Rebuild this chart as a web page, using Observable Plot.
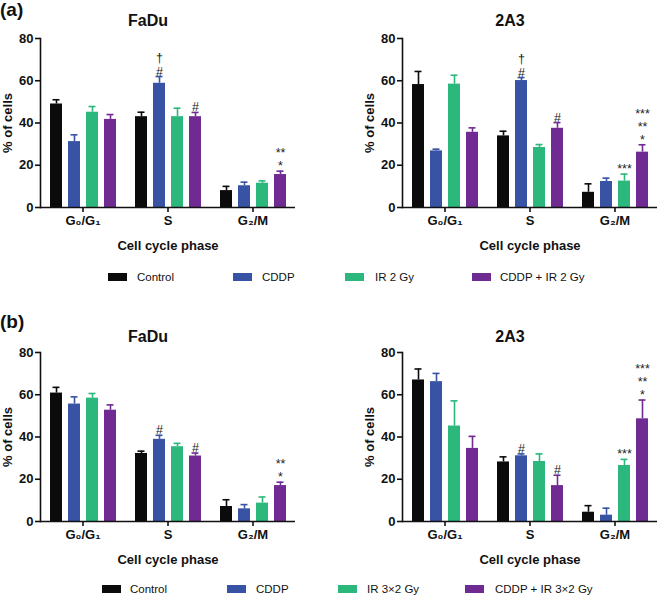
<!DOCTYPE html>
<html>
<head>
<meta charset="utf-8">
<script src="https://cdn.jsdelivr.net/npm/d3@7"></script>
<script src="https://cdn.jsdelivr.net/npm/@observablehq/plot@0.6"></script>
<style>
  body { margin: 0; background: #fff; }
  #fig { position: relative; width: 658px; height: 597px; font-family: "Liberation Sans", Arial, sans-serif; color: #111; overflow: hidden; }
  .abs { position: absolute; white-space: nowrap; line-height: 1.1; }
  .panel-label { font-weight: bold; font-size: 19px; }
  .title { font-weight: bold; font-size: 16px; transform: translate(-50%, -50%); }
  .sw { position: absolute; width: 19px; height: 8px; }
  .lg { position: absolute; font-size: 11.5px; transform: translateY(-50%); }
</style>
</head>
<body>
<div id="fig"></div>
<script>
// ---------- data ----------
const phases = ["G\u2080/G\u2081", "S", "G\u2082/M"];
const treatmentsA = ["Control", "CDDP", "IR 2 Gy", "CDDP + IR 2 Gy"];
const treatmentsB = ["Control", "CDDP", "IR 3\u00d72 Gy", "CDDP + IR 3\u00d72 Gy"];
const colors = ["#0b0b0b", "#3953a4", "#2cb77c", "#6f2b91"];

// means (rows: phases, cols: treatments) and upper error-bar ends
const faduA_mean = [[49.0, 31.2, 45.1, 41.7], [43.0, 58.8, 43.0, 43.0], [8.0, 10.3, 11.5, 15.6]];
const faduA_err  = [[51.0, 34.4, 47.8, 44.0], [45.1, 62.0, 47.0, 45.0], [10.0, 12.0, 12.6, 17.2]];
const a2a3A_mean = [[58.2, 26.8, 58.4, 35.6], [33.9, 60.1, 28.4, 37.5], [7.2, 12.3, 12.5, 26.2]];
const a2a3A_err  = [[64.4, 27.6, 62.6, 37.7], [36.1, 61.5, 29.8, 40.2], [11.2, 13.9, 15.8, 29.7]];
const faduB_mean = [[60.8, 55.6, 58.4, 52.7], [32.2, 38.9, 35.4, 31.0], [7.1, 6.0, 8.7, 17.0]];
const faduB_err  = [[63.5, 59.0, 60.6, 55.2], [33.3, 40.8, 37.0, 32.4], [10.3, 8.0, 11.6, 18.6]];
const a2a3B_mean = [[67.0, 66.2, 45.2, 34.6], [28.2, 31.1, 28.4, 17.0], [4.4, 3.0, 26.5, 48.6]];
const a2a3B_err  = [[72.2, 70.1, 57.1, 40.3], [30.6, 32.0, 32.0, 21.9], [7.5, 6.3, 29.4, 57.5]];

// significance marks: [phase index, treatment index, text]
const faduA_sig = [[1, 1, "\u2020\n#"], [1, 3, "#"], [2, 3, "**\n*"]];
const a2a3A_sig = [[1, 1, "\u2020\n#"], [1, 3, "#"], [2, 2, "***"], [2, 3, "***\n**\n*"]];
const faduB_sig = [[1, 1, "#"], [1, 3, "#"], [2, 3, "**\n*"]];
const a2a3B_sig = [[1, 1, "#"], [1, 3, "#"], [2, 2, "***"], [2, 3, "***\n**\n*"]];

const yTicks = [0, 20, 40, 60, 80];

// ---------- layout ----------
const fig = document.getElementById("fig");
function addDiv(cls, text, left, top) {
  const d = document.createElement("div");
  d.className = "abs " + cls;
  d.textContent = text;
  d.style.left = left + "px";
  d.style.top = top + "px";
  fig.appendChild(d);
  return d;
}

const panels = [
  {name: "FaDu", mean: faduA_mean, err: faduA_err, sig: faduA_sig, tr: treatmentsA, left: 0,   top: 25,  width: 330, ml: 40, mr: 35, tx: 148, ty: 21},
  {name: "2A3",  mean: a2a3A_mean, err: a2a3A_err, sig: a2a3A_sig, tr: treatmentsA, left: 330, top: 25,  width: 328, ml: 72, mr: 1,  tx: 510, ty: 21},
  {name: "FaDu", mean: faduB_mean, err: faduB_err, sig: faduB_sig, tr: treatmentsB, left: 0,   top: 339, width: 330, ml: 40, mr: 35, tx: 148, ty: 337},
  {name: "2A3",  mean: a2a3B_mean, err: a2a3B_err, sig: a2a3B_sig, tr: treatmentsB, left: 330, top: 339, width: 328, ml: 72, mr: 1,  tx: 510, ty: 337}
];

addDiv("panel-label", "(a)", 0, 0);
addDiv("panel-label", "(b)", 0, 312);

for (const p of panels) {
  addDiv("title", p.name, p.tx, p.ty);
  const rows = [];
  phases.forEach((ph, i) => p.tr.forEach((t, j) => rows.push({phase: ph, treat: t, mean: p.mean[i][j], err: p.err[i][j]})));
  const sigRows = p.sig.map(([i, j, s]) => ({phase: phases[i], treat: p.tr[j], err: p.err[i][j], text: s}));
  const chart = Plot.plot({
    width: p.width,
    height: 230,
    marginLeft: p.ml,
    marginRight: p.mr,
    marginTop: 13,
    marginBottom: 48,
    style: {fontFamily: "'Liberation Sans', Arial, sans-serif", fontSize: "13px", fontWeight: "bold", color: "#111", background: "transparent"},
    fx: {domain: phases, paddingInner: 0, paddingOuter: 0},
    x: {domain: p.tr, paddingInner: 0.35, paddingOuter: 0.47, axis: null},
    y: {domain: [0, 80]},
    color: {domain: p.tr, range: colors},
    marks: [
      Plot.ruleX(rows, {fx: "phase", x: "treat", y1: "mean", y2: "err", stroke: "treat", strokeWidth: 1.6}),
      Plot.tickY(rows, {fx: "phase", x: "treat", y: "err", stroke: "treat", strokeWidth: 1.6, insetLeft: 2.5, insetRight: 2.5}),
      Plot.barY(rows, {fx: "phase", x: "treat", y: "mean", fill: "treat"}),
      Plot.text(sigRows, {fx: "phase", x: "treat", y: "err", text: "text", lineAnchor: "bottom", dy: -1, fontSize: 12.5, fontWeight: "normal", lineHeight: 1.05, fill: "#222"}),
      Plot.ruleY([0], {strokeWidth: 1.6}),
      Plot.frame({anchor: "left", facetAnchor: "left", strokeWidth: 1.6}),
      Plot.axisY({ticks: yTicks, tickSize: 5, tickPadding: 2, strokeWidth: 1.6, label: "% of cells", labelAnchor: "center", labelOffset: 38, labelArrow: "none", fontSize: 13}),
      Plot.axisFx({anchor: "bottom", tickSize: 5, tickPadding: 3, strokeWidth: 1.6, label: "Cell cycle phase", labelAnchor: "center", labelOffset: 42, fontSize: 13})
    ]
  });
  chart.style.position = "absolute";
  chart.style.left = p.left + "px";
  chart.style.top = p.top + "px";
  fig.appendChild(chart);
}

// ---------- legends ----------
const legends = [
  {tr: treatmentsA, y: 277, sx: [108, 233, 345, 472], tx: [137, 262, 375, 500]},
  {tr: treatmentsB, y: 589, sx: [102, 227, 338, 465], tx: [130, 256, 367, 495]}
];
for (const L of legends) {
  L.tr.forEach((t, j) => {
    const s = document.createElement("div");
    s.className = "sw";
    s.style.left = L.sx[j] + "px";
    s.style.top = (L.y - 4) + "px";
    s.style.background = colors[j];
    fig.appendChild(s);
    addDiv("lg", t, L.tx[j], L.y);
  });
}
</script>
</body>
</html>
